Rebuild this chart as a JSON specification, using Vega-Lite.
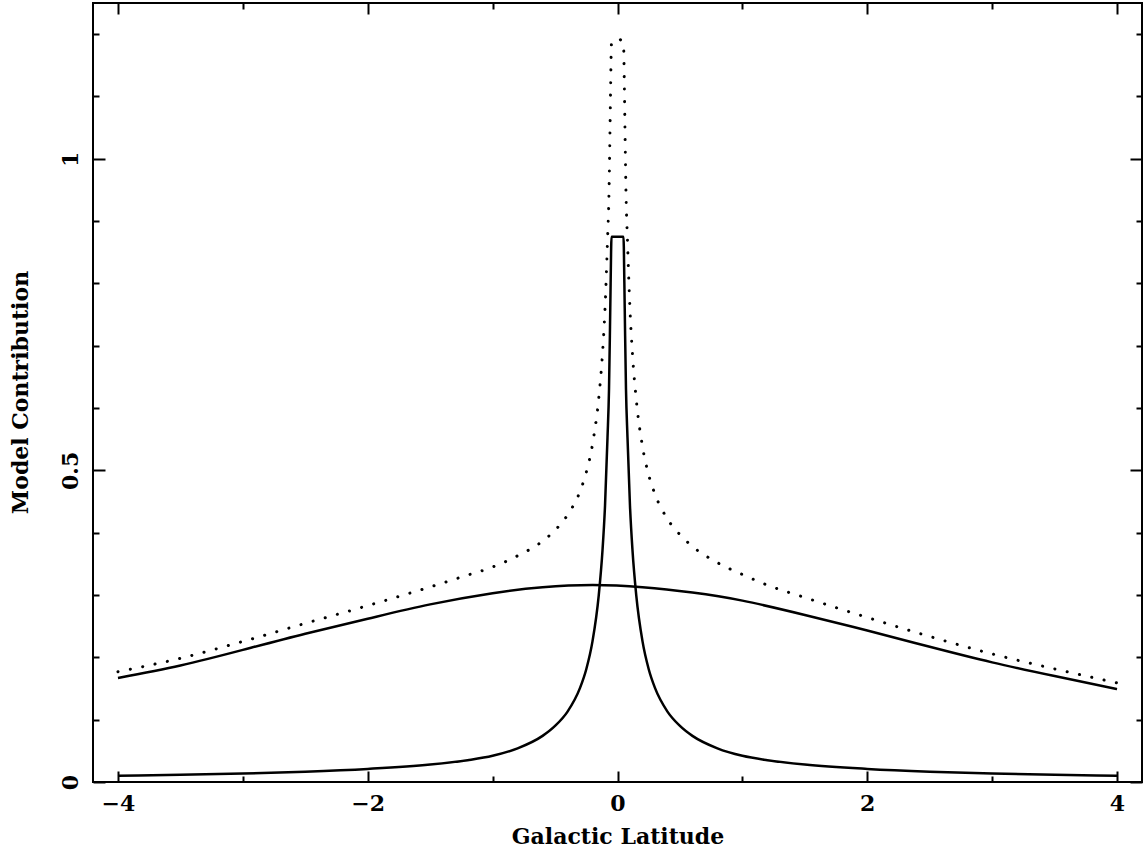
{
  "$schema": "https://vega.github.io/schema/vega-lite/v6.json",
  "width": 1049,
  "height": 779,
  "autosize": {"type": "none"},
  "padding": {"left": 93, "top": 3, "right": 3, "bottom": 75},
  "background": "white",
  "config": {
    "view": {"stroke": "black", "strokeWidth": 2},
    "axis": {
      "domain": false,
      "grid": false,
      "tickColor": "black",
      "tickWidth": 2,
      "labelFont": "DejaVu Serif",
      "labelFontWeight": "bold",
      "labelFontSize": 22,
      "labelColor": "black",
      "titleFont": "DejaVu Serif",
      "titleFontWeight": "bold",
      "titleFontSize": 22,
      "titleColor": "black"
    }
  },
  "data": {
    "values": [
      {"b": -4, "v": 0.167, "s": "broad"},
      {"b": -3.5, "v": 0.187, "s": "broad"},
      {"b": -3, "v": 0.212, "s": "broad"},
      {"b": -2.5, "v": 0.238, "s": "broad"},
      {"b": -2, "v": 0.262, "s": "broad"},
      {"b": -1.5, "v": 0.285, "s": "broad"},
      {"b": -1, "v": 0.303, "s": "broad"},
      {"b": -0.6, "v": 0.3125, "s": "broad"},
      {"b": -0.2, "v": 0.316, "s": "broad"},
      {"b": 0.2, "v": 0.3125, "s": "broad"},
      {"b": 0.6, "v": 0.304, "s": "broad"},
      {"b": 1, "v": 0.291, "s": "broad"},
      {"b": 1.5, "v": 0.268, "s": "broad"},
      {"b": 2, "v": 0.243, "s": "broad"},
      {"b": 2.5, "v": 0.217, "s": "broad"},
      {"b": 3, "v": 0.192, "s": "broad"},
      {"b": 3.5, "v": 0.17, "s": "broad"},
      {"b": 4, "v": 0.149, "s": "broad"},

      {"b": -4, "v": 0.01, "s": "narrow"},
      {"b": -3.5, "v": 0.0115, "s": "narrow"},
      {"b": -3, "v": 0.0135, "s": "narrow"},
      {"b": -2.5, "v": 0.0165, "s": "narrow"},
      {"b": -2, "v": 0.021, "s": "narrow"},
      {"b": -1.5, "v": 0.028, "s": "narrow"},
      {"b": -1.2, "v": 0.035, "s": "narrow"},
      {"b": -1, "v": 0.042, "s": "narrow"},
      {"b": -0.8, "v": 0.054, "s": "narrow"},
      {"b": -0.6, "v": 0.074, "s": "narrow"},
      {"b": -0.5, "v": 0.09, "s": "narrow"},
      {"b": -0.4, "v": 0.113, "s": "narrow"},
      {"b": -0.3, "v": 0.151, "s": "narrow"},
      {"b": -0.25, "v": 0.181, "s": "narrow"},
      {"b": -0.2, "v": 0.226, "s": "narrow"},
      {"b": -0.15, "v": 0.3, "s": "narrow"},
      {"b": -0.12, "v": 0.372, "s": "narrow"},
      {"b": -0.1, "v": 0.443, "s": "narrow"},
      {"b": -0.08, "v": 0.553, "s": "narrow"},
      {"b": -0.068, "v": 0.63, "s": "narrow"},
      {"b": -0.06, "v": 0.73, "s": "narrow"},
      {"b": -0.055, "v": 0.8, "s": "narrow"},
      {"b": -0.048, "v": 0.875, "s": "narrow"},
      {"b": 0.048, "v": 0.875, "s": "narrow"},
      {"b": 0.055, "v": 0.8, "s": "narrow"},
      {"b": 0.06, "v": 0.73, "s": "narrow"},
      {"b": 0.068, "v": 0.63, "s": "narrow"},
      {"b": 0.08, "v": 0.553, "s": "narrow"},
      {"b": 0.1, "v": 0.443, "s": "narrow"},
      {"b": 0.12, "v": 0.372, "s": "narrow"},
      {"b": 0.15, "v": 0.3, "s": "narrow"},
      {"b": 0.2, "v": 0.226, "s": "narrow"},
      {"b": 0.25, "v": 0.181, "s": "narrow"},
      {"b": 0.3, "v": 0.151, "s": "narrow"},
      {"b": 0.4, "v": 0.113, "s": "narrow"},
      {"b": 0.5, "v": 0.09, "s": "narrow"},
      {"b": 0.6, "v": 0.074, "s": "narrow"},
      {"b": 0.8, "v": 0.054, "s": "narrow"},
      {"b": 1, "v": 0.042, "s": "narrow"},
      {"b": 1.2, "v": 0.035, "s": "narrow"},
      {"b": 1.5, "v": 0.028, "s": "narrow"},
      {"b": 2, "v": 0.021, "s": "narrow"},
      {"b": 2.5, "v": 0.0165, "s": "narrow"},
      {"b": 3, "v": 0.0135, "s": "narrow"},
      {"b": 3.5, "v": 0.0115, "s": "narrow"},
      {"b": 4, "v": 0.01, "s": "narrow"},

      {"b": -4, "v": 0.177, "s": "sum"},
      {"b": -3.5, "v": 0.1985, "s": "sum"},
      {"b": -3, "v": 0.2255, "s": "sum"},
      {"b": -2.5, "v": 0.2545, "s": "sum"},
      {"b": -2, "v": 0.283, "s": "sum"},
      {"b": -1.5, "v": 0.313, "s": "sum"},
      {"b": -1.2, "v": 0.332, "s": "sum"},
      {"b": -1, "v": 0.345, "s": "sum"},
      {"b": -0.8, "v": 0.363, "s": "sum"},
      {"b": -0.6, "v": 0.3865, "s": "sum"},
      {"b": -0.5, "v": 0.404, "s": "sum"},
      {"b": -0.4, "v": 0.4285, "s": "sum"},
      {"b": -0.3, "v": 0.4665, "s": "sum"},
      {"b": -0.25, "v": 0.497, "s": "sum"},
      {"b": -0.2, "v": 0.542, "s": "sum"},
      {"b": -0.15, "v": 0.616, "s": "sum"},
      {"b": -0.12, "v": 0.688, "s": "sum"},
      {"b": -0.1, "v": 0.759, "s": "sum"},
      {"b": -0.08, "v": 0.869, "s": "sum"},
      {"b": -0.068, "v": 0.946, "s": "sum"},
      {"b": -0.06, "v": 1.046, "s": "sum"},
      {"b": -0.055, "v": 1.116, "s": "sum"},
      {"b": -0.048, "v": 1.185, "s": "sum"},
      {"b": 0, "v": 1.193, "s": "sum"},
      {"b": 0.048, "v": 1.185, "s": "sum"},
      {"b": 0.055, "v": 1.115, "s": "sum"},
      {"b": 0.06, "v": 1.045, "s": "sum"},
      {"b": 0.068, "v": 0.945, "s": "sum"},
      {"b": 0.08, "v": 0.868, "s": "sum"},
      {"b": 0.1, "v": 0.7575, "s": "sum"},
      {"b": 0.12, "v": 0.686, "s": "sum"},
      {"b": 0.15, "v": 0.614, "s": "sum"},
      {"b": 0.2, "v": 0.5385, "s": "sum"},
      {"b": 0.25, "v": 0.4925, "s": "sum"},
      {"b": 0.3, "v": 0.462, "s": "sum"},
      {"b": 0.4, "v": 0.422, "s": "sum"},
      {"b": 0.5, "v": 0.397, "s": "sum"},
      {"b": 0.6, "v": 0.378, "s": "sum"},
      {"b": 0.8, "v": 0.352, "s": "sum"},
      {"b": 1, "v": 0.333, "s": "sum"},
      {"b": 1.2, "v": 0.316, "s": "sum"},
      {"b": 1.5, "v": 0.296, "s": "sum"},
      {"b": 2, "v": 0.264, "s": "sum"},
      {"b": 2.5, "v": 0.2335, "s": "sum"},
      {"b": 3, "v": 0.2055, "s": "sum"},
      {"b": 3.5, "v": 0.1815, "s": "sum"},
      {"b": 4, "v": 0.159, "s": "sum"}
    ]
  },
  "layer": [
    {
      "transform": [{"filter": "datum.s === 'narrow'"}],
      "mark": {"type": "line", "color": "black", "strokeWidth": 2.5, "interpolate": "monotone", "clip": true},
      "encoding": {
        "x": {
          "field": "b", "type": "quantitative",
          "scale": {"domain": [-4.2, 4.2], "nice": false, "zero": false},
          "axis": {
            "orient": "bottom",
            "title": "Galactic Latitude",
            "titleY": 54,
            "titleBaseline": "middle",
            "values": [-4, -3, -2, -1, 0, 1, 2, 3, 4],
            "tickSize": {"condition": {"test": "datum.value % 2 === 0", "value": -11}, "value": -6},
            "labelExpr": "datum.value % 2 === 0 ? format(datum.value, 'd') : ''",
            "labelBaseline": "top",
            "labelPadding": 22,
            "labelFlush": false,
            "labelOverlap": false
          }
        },
        "y": {
          "field": "v", "type": "quantitative",
          "scale": {"domain": [0, 1.25], "nice": false, "zero": false},
          "axis": {
            "orient": "left",
            "title": "Model Contribution",
            "titleX": -73,
            "titleY": 389,
            "titleAngle": -90,
            "titleAlign": "center",
            "titleBaseline": "middle",
            "values": [0, 0.1, 0.2, 0.3, 0.4, 0.5, 0.6, 0.7, 0.8, 0.9, 1, 1.1, 1.2],
            "tickSize": {"condition": {"test": "round(datum.value * 10) % 5 === 0", "value": -12}, "value": -6},
            "labelExpr": "round(datum.value * 10) % 5 === 0 ? toString(round(datum.value * 10) / 10) : ''",
            "labelAngle": -90,
            "labelAlign": "center",
            "labelBaseline": "middle",
            "labelPadding": 35,
            "labelFlush": false,
            "labelOverlap": false
          }
        }
      }
    },
    {
      "transform": [{"filter": "datum.s === 'sum'"}],
      "mark": {"type": "line", "color": "black", "strokeWidth": 3, "strokeCap": "round", "strokeDash": [0.1, 12.5], "interpolate": "monotone", "clip": true},
      "encoding": {
        "x": {
          "field": "b", "type": "quantitative",
          "axis": {
            "orient": "top",
            "title": null,
            "labels": false,
            "values": [-4, -3, -2, -1, 0, 1, 2, 3, 4],
            "tickSize": {"condition": {"test": "datum.value % 2 === 0", "value": -11}, "value": -6}
          }
        },
        "y": {
          "field": "v", "type": "quantitative",
          "axis": {
            "orient": "right",
            "title": null,
            "labels": false,
            "values": [0, 0.1, 0.2, 0.3, 0.4, 0.5, 0.6, 0.7, 0.8, 0.9, 1, 1.1, 1.2],
            "tickSize": {"condition": {"test": "round(datum.value * 10) % 5 === 0", "value": -12}, "value": -6}
          }
        }
      }
    },
    {
      "transform": [{"filter": "datum.s === 'broad'"}],
      "mark": {"type": "line", "color": "black", "strokeWidth": 2.5, "interpolate": "natural", "clip": true},
      "encoding": {
        "x": {"field": "b", "type": "quantitative", "axis": null},
        "y": {"field": "v", "type": "quantitative", "axis": null}
      }
    }
  ],
  "resolve": {"axis": {"x": "independent", "y": "independent"}}
}
